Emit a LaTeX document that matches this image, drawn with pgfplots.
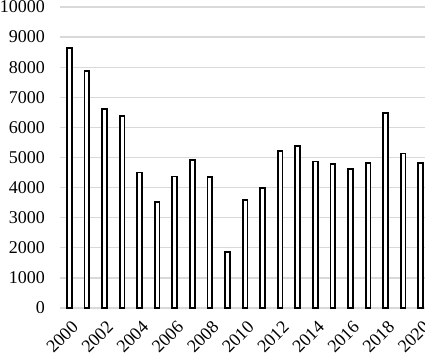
\documentclass[border=0pt]{standalone}
\usepackage{pgfplots}
\pgfplotsset{compat=1.18}
\usepackage{fontspec}
\setmainfont{Liberation Serif}
\definecolor{gridgray}{HTML}{D9D9D9}
\begin{document}
\begin{tikzpicture}
\begin{axis}[
  scale only axis,
  width=369pt, height=301pt,
  xmin=1999.5, xmax=2020.5,
  ymin=0, ymax=10000,
  ytick={0,1000,...,10000},
  xtick={2000,2002,...,2020},
  major tick length=0pt,
  axis line style={draw=none},
  ymajorgrids,
  grid style={gridgray, line width=1.3pt},
  /pgf/number format/assume math mode=true,
  /pgf/number format/1000 sep={},
  scaled y ticks=false,
  tick label style={font=\fontsize{18}{20}\selectfont},
  yticklabel style={xshift=-12pt},
  xticklabel style={rotate=45, anchor=north east, xshift=-4pt, yshift=-6pt},
  ybar, bar width=4.8pt,
]
\addplot[draw=black, fill=white, line width=1.8pt] coordinates {
(2000,8650) (2001,7870) (2002,6600) (2003,6380) (2004,4500)
(2005,3530) (2006,4370) (2007,4930) (2008,4360) (2009,1850)
(2010,3580) (2011,3980) (2012,5220) (2013,5390) (2014,4870)
(2015,4790) (2016,4610) (2017,4810) (2018,6470) (2019,5130)
(2020,4810)
};
\end{axis}
\pgfresetboundingbox
\path[use as bounding box] (-60.5pt,-49pt) rectangle (364.5pt,308pt);
\end{tikzpicture}
\end{document}
